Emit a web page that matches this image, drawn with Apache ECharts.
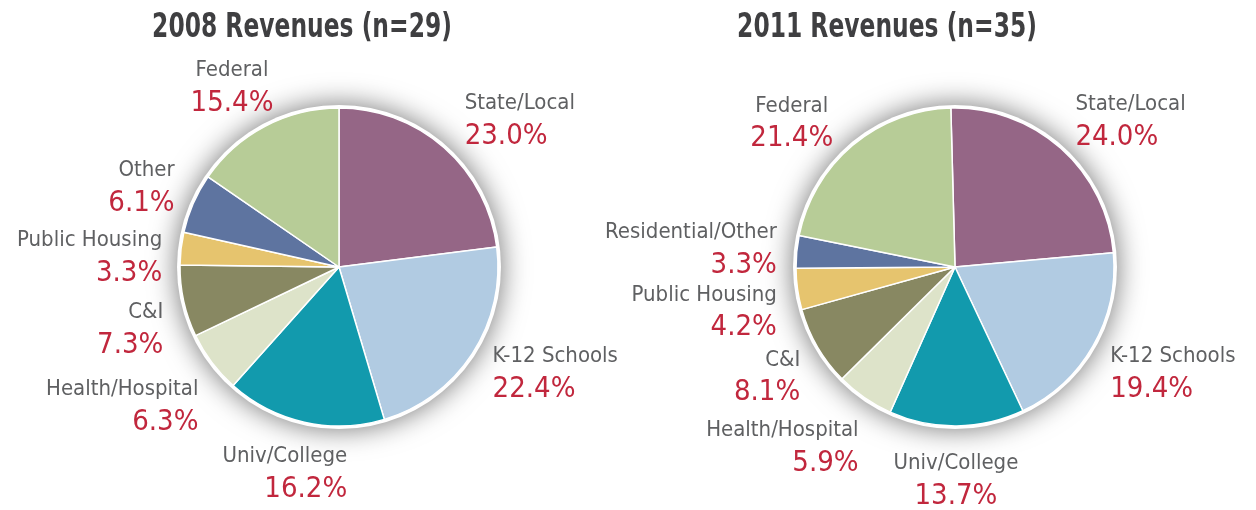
<!DOCTYPE html>
<html>
<head>
<meta charset="utf-8">
<script src="https://cdn.jsdelivr.net/npm/echarts@6/dist/echarts.min.js"></script>
<style>
html,body{margin:0;padding:0;background:#fff;}
#main{width:1256px;height:510px;}
</style>
</head>
<body>
<div id="main"></div>
<script>
const titles = ['2008 Revenues (n=29)', '2011 Revenues (n=35)'];
const categories2008 = ['State/Local', 'K-12 Schools', 'Univ/College', 'Health/Hospital', 'C&I', 'Public Housing', 'Other', 'Federal'];
const values2008 = [23.0, 22.4, 16.2, 6.3, 7.3, 3.3, 6.1, 15.4];
const categories2011 = ['State/Local', 'K-12 Schools', 'Univ/College', 'Health/Hospital', 'C&I', 'Public Housing', 'Residential/Other', 'Federal'];
const values2011 = [24.0, 19.4, 13.7, 5.9, 8.1, 4.2, 3.3, 21.4];
const colors = ['#956686', '#b1cbe2', '#129aad', '#dde3c9', '#888862', '#e6c46e', '#5e74a0', '#b7cc97'];

const FONT = '"DejaVu Sans Condensed", "Liberation Sans Narrow", sans-serif';

// label nudges (dx, dy) from the library's outside placement, and alignment overrides
const nudge2008 = [[-3,-6],[-8,4],[54,24],[14,27],[12,22],[14,12],[12,-5],[-15,-14]];
const align2008 = [null, null, null, null, null, null, null, 'center'];
const nudge2011 = [[-9,-6],[-12,13],[-6,26],[15,27],[12,16],[12,19],[13,0],[-38,-1]];
const align2011 = [null, null, 'center', null, null, null, null, 'center'];

function buildData(cats, vals) {
  return cats.map((c, i) => ({ name: c, value: vals[i], itemStyle: { color: colors[i] } }));
}

function labelLayoutFor(nudges, aligns) {
  return function (p) {
    const n = nudges[p.dataIndex] || [0, 0];
    const o = { dx: n[0], dy: n[1] };
    if (aligns[p.dataIndex]) o.align = aligns[p.dataIndex];
    return o;
  };
}

function pieSeries(center, cats, vals, start, nudges, aligns) {
  return {
    type: 'pie',
    center: center,
    radius: 159,
    startAngle: start,
    clockwise: true,
    avoidLabelOverlap: false,
    z: 3,
    itemStyle: { borderColor: '#ffffff', borderWidth: 1.5 },
    label: {
      show: true,
      position: 'outside',
      fontFamily: FONT,
      formatter: function (p) { return '{n|' + p.name + '}\n{p|' + p.value.toFixed(1) + '%}'; },
      rich: {
        n: { fontFamily: FONT, fontSize: 22, color: '#5f6062', lineHeight: 32 },
        p: { fontFamily: FONT, fontSize: 29, color: '#c1273d', lineHeight: 34 }
      }
    },
    labelLine: { show: false, length: 28, length2: 0 },
    labelLayout: labelLayoutFor(nudges, aligns),
    emphasis: { disabled: true },
    data: buildData(cats, vals)
  };
}

function haloSeries(center) {
  return {
    type: 'pie',
    center: center,
    radius: 162,
    silent: true,
    z: 1,
    label: { show: false },
    labelLine: { show: false },
    itemStyle: { color: '#ffffff', shadowBlur: 28, shadowColor: 'rgba(0,0,0,0.55)' },
    emphasis: { disabled: true },
    data: [{ value: 1, name: '' }]
  };
}

function titleText(text, x) {
  return {
    type: 'text',
    x: x,
    y: 11,
    scaleX: 0.765,
    silent: true,
    style: {
      text: text,
      fontFamily: FONT,
      fontWeight: 'bold',
      fontSize: 34,
      fill: '#3f3f41',
      align: 'center',
      verticalAlign: 'top'
    }
  };
}

const chart = echarts.init(document.getElementById('main'), null, { renderer: 'canvas' });
chart.setOption({
  backgroundColor: '#ffffff',
  animation: false,
  graphic: [titleText(titles[0], 302), titleText(titles[1], 887)],
  series: [
    haloSeries([339, 267]),
    haloSeries([955, 267]),
    pieSeries([339, 267], categories2008, values2008, 90, nudge2008, align2008),
    pieSeries([955, 267], categories2011, values2011, 91.5, nudge2011, align2011)
  ]
});
</script>
</body>
</html>
